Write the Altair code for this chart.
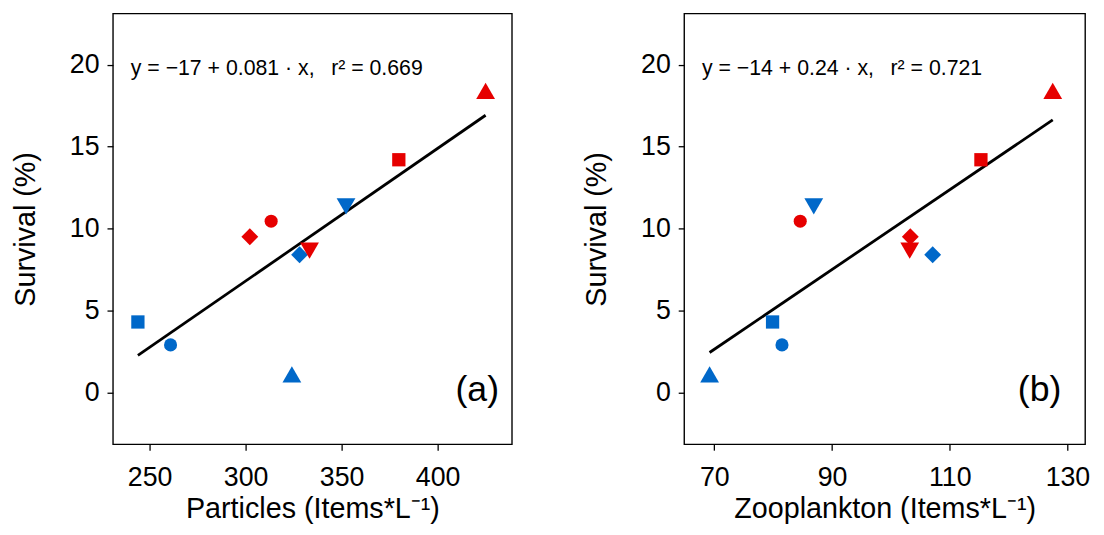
import altair as alt
import pandas as pd

# ---- data ----
colour_group = ["Blue", "Blue", "Blue", "Blue", "Blue", "Red", "Red", "Red", "Red", "Red"]
shape_group = ["square", "circle", "triangle-up", "diamond", "triangle-down",
               "diamond", "circle", "triangle-down", "square", "triangle-up"]
survival = [4.3, 2.9, 1.1, 8.4, 11.35, 9.5, 10.45, 8.65, 14.2, 18.4]
particles = [243.9, 260.9, 324.1, 328.1, 352.3, 302.2, 313.3, 333.3, 379.8, 425.0]
zooplankton = [79.9, 81.5, 69.2, 107.1, 86.9, 103.3, 84.6, 103.2, 115.3, 127.5]

particle_ticks = [250, 300, 350, 400]
zoo_ticks = [70, 90, 110, 130]
survival_ticks = [0, 5, 10, 15, 20]

eq_a = "y = \u221217 + 0.081 \u00b7 x,\u00a0\u2002r\u00b2 = 0.669"
eq_b = "y = \u221214 + 0.24 \u00b7 x,\u00a0\u2002r\u00b2 = 0.721"

df = pd.DataFrame({
    "colour": colour_group,
    "shape": shape_group,
    "survival": survival,
    "particles": particles,
    "zooplankton": zooplankton,
})

FONT = "Liberation Sans"
BLUE = "#0068C9"
RED = "#E60000"
Y_DOMAIN = [-3.16, 23.12]
H = 435


def panel(xfield, xtitle, xdomain, xticks, eq, tag, width, tag_dx):
    base = alt.Chart(df)
    xenc = alt.X(f"{xfield}:Q",
                 scale=alt.Scale(domain=xdomain, nice=False, zero=False),
                 axis=alt.Axis(values=xticks, title=xtitle, format="d"))
    yenc = alt.Y("survival:Q",
                 scale=alt.Scale(domain=Y_DOMAIN, nice=False, zero=False),
                 axis=alt.Axis(values=survival_ticks, title="Survival (%)"))
    pts = base.transform_calculate(
        sz="datum.shape == 'square' ? 180 : datum.shape == 'circle' ? 175 : datum.shape == 'diamond' ? 290 : 360"
    ).mark_point(filled=True, opacity=1, strokeWidth=0).encode(
        x=xenc, y=yenc,
        color=alt.Color("colour:N", scale=alt.Scale(domain=["Blue", "Red"], range=[BLUE, RED]), legend=None),
        shape=alt.Shape("shape:N", scale=None),
        size=alt.Size("sz:Q", scale=None),
    )
    line = base.transform_regression(xfield, "survival").mark_line(
        color="black", strokeWidth=2.8
    ).encode(x=f"{xfield}:Q", y="survival:Q")
    eq_txt = alt.Chart(pd.DataFrame({"t": [eq]})).mark_text(
        align="left", baseline="alphabetic", font=FONT, fontSize=21.5, color="black"
    ).encode(text="t:N", x=alt.value(18), y=alt.value(62))
    tag_txt = alt.Chart(pd.DataFrame({"t": [tag]})).mark_text(
        align="right", baseline="middle", font=FONT, fontSize=36, color="black"
    ).encode(text="t:N", x=alt.value(width - tag_dx), y=alt.value(380))
    return alt.layer(line, pts, eq_txt, tag_txt).properties(width=width, height=H)


pa = panel("particles", "Particles (Items*L\u207b\u00b9)", [230.9, 438.7], particle_ticks, eq_a, "(a)", 403, 13)
pb = panel("zooplankton", "Zooplankton (Items*L\u207b\u00b9)", [64.88, 133.0], zoo_ticks, eq_b, "(b)", 405, 24)

chart = alt.hconcat(pa, pb, spacing=70).properties(
    padding={"left": 3, "top": 2, "right": 5, "bottom": 2}
).configure_view(
    stroke="black", strokeWidth=1.4
).configure_axis(
    grid=False, domain=False,
    tickColor="black", tickSize=6, tickWidth=1.3,
    labelFont=FONT, labelFontSize=27, labelColor="black", labelPadding=8,
    titleFont=FONT, titleFontSize=29, titleFontWeight="normal", titleColor="black",
).configure_axisX(
    labelPadding=15, titlePadding=4
).configure_axisY(
    titlePadding=29
)

chart.save("out.html", embed_options={"renderer": "svg", "actions": False})
